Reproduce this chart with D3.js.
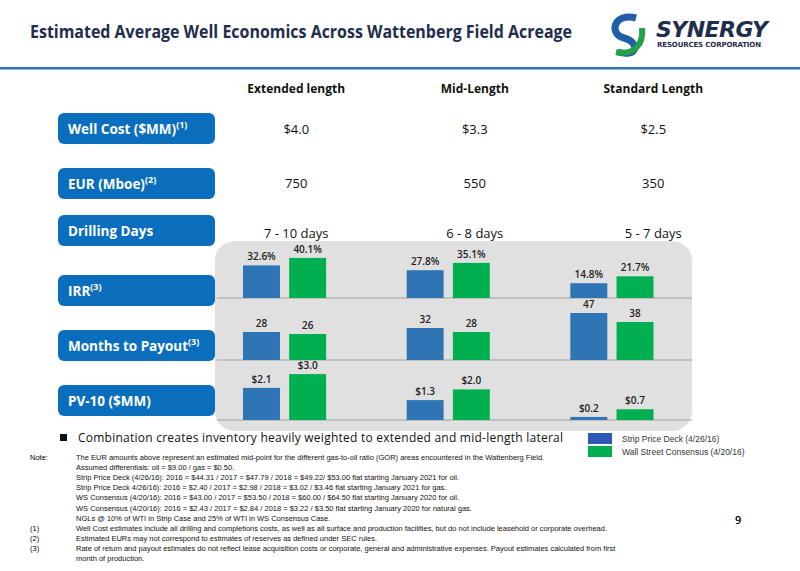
<!DOCTYPE html><html><head><meta charset="utf-8"><script src="https://cdn.jsdelivr.net/npm/d3@7"></script>
<style>body{margin:0;background:#fff}</style></head><body><svg id="c" width="800" height="571"></svg>
<script>
const categories=["Extended length","Mid-Length","Standard Length"];
const wellCost=["$4.0","$3.3","$2.5"];
const eur=["750","550","350"];
const drillDays=["7 - 10 days","6 - 8 days","5 - 7 days"];
const series=["Strip Price Deck (4/26/16)","Wall Street Consensus (4/20/16)"];
const irrStrip=[32.6,27.8,14.8], irrWS=[40.1,35.1,21.7];
const payStrip=[28,32,47], payWS=[26,28,38];
const pvStrip=[2.1,1.3,0.2], pvWS=[3.0,2.0,0.7];
const rowLabels=["Well Cost ($MM)","EUR (Mboe)","Drilling Days","IRR","Months to Payout","PV-10 ($MM)"];
const rowSup=["(1)","(2)","","(3)","(3)",""];
const notes=["The EUR amounts above represent an estimated mid-point for the different gas-to-oil ratio (GOR) areas encountered in the Wattenberg Field.",
"Assumed differentials: oil = $9.00 / gas = $0.50.",
"Strip Price Deck (4/26/16): 2016 = $44.31 / 2017 = $47.79 / 2018 = $49.22/ $53.00 flat starting January 2021 for oil.",
"Strip Price Deck 4/26/16): 2016 = $2.40 / 2017 = $2.98 / 2018 = $3.02 / $3.46 flat starting January 2021 for gas.",
"WS Consensus (4/20/16): 2016 = $43.00 / 2017 = $53.50 / 2018 = $60.00 / $64.50 flat starting January 2020 for oil.",
"WS Consensus (4/20/16): 2016 = $2.43 / 2017 = $2.84 / 2018 = $3.22 / $3.50 flat starting January 2020 for natural gas.",
"NGLs @ 10% of WTI in Strip Case and 25% of WTI in WS Consensus Case."];
const footnotes=[["(1)","Well Cost estimates include all drilling and completions costs, as well as all surface and production facilities, but do not include leasehold or corporate overhead."],
["(2)","Estimated EURs may not correspond to estimates of reserves as defined under SEC rules."],
["(3)","Rate of return and payout estimates do not reflect lease acquisition costs or corporate, general and administrative expenses.  Payout estimates calculated from first"],
["","month of production."]];
const svg=d3.select("#c"),F="Open Sans, sans-serif",NAVY="#1f2d4e",BLUE="#2e75b6",GREEN="#00b050";
svg.append("text").attr("x",30).attr("y",38).attr("font-family",F).attr("font-weight",700).attr("font-size",17).attr("fill",NAVY).attr("textLength",542).attr("lengthAdjust","spacingAndGlyphs").text("Estimated Average Well Economics Across Wattenberg Field Acreage");
const lg=svg.append("g");
lg.append("path").attr("d","M636,18 C614,12 608,34 624,38 C640,42 638,58 618,52").attr("fill","none").attr("stroke","#1f5fa8").attr("stroke-width",7);
lg.append("path").attr("d","M642,28 C644,44 634,56 616,52").attr("fill","none").attr("stroke","#22a04a").attr("stroke-width",6);
lg.append("text").attr("x",656).attr("y",37).attr("font-family","DejaVu Sans").attr("font-weight",700).attr("font-style","italic").attr("font-size",22).attr("fill","#1f2d4e").attr("textLength",112).text("SYNERGY");
lg.append("text").attr("x",657).attr("y",47).attr("font-family","DejaVu Sans").attr("font-weight",700).attr("font-size",7).attr("fill","#1f2d4e").attr("textLength",104).text("RESOURCES CORPORATION");
svg.append("rect").attr("x",0).attr("y",67).attr("width",800).attr("height",2.5).attr("fill","#2e75b6");
const xh=d3.scaleBand().domain(categories).range([207,742.5]).padding(0);
const cx=c=>xh(c)+xh.bandwidth()/2;
const x0=d3.scaleBand().domain(categories).range([243,653.5]).paddingInner(0.492).paddingOuter(0);
const xs=d3.scaleBand().domain(series).range([0,x0.bandwidth()]).paddingInner(0.2).paddingOuter(0);
svg.selectAll(".hd").data(categories).join("text").attr("x",cx).attr("y",93).attr("text-anchor","middle").attr("font-family",F).attr("font-weight",700).attr("font-size",12).attr("fill","#111").text(d=>d);
[[wellCost,134],[eur,188],[drillDays,238]].forEach(([arr,y])=>svg.selectAll(null).data(arr).join("text").attr("x",(d,i)=>cx(categories[i])).attr("y",y).attr("text-anchor","middle").attr("font-family",F).attr("font-size",13).attr("fill","#111").text(d=>d));
const ry=[113,168,215,275,330,385];
rowLabels.forEach((l,i)=>{svg.append("rect").attr("x",58).attr("y",ry[i]).attr("width",157).attr("height",31).attr("rx",6).attr("fill","#0a6ebd");
 const t=svg.append("text").attr("x",68).attr("y",ry[i]+21).attr("font-family",F).attr("font-weight",700).attr("font-size",13.5).attr("fill","#fff").text(l);
 if(rowSup[i])t.append("tspan").attr("dy",-6).attr("font-size",9).text(rowSup[i]);});
svg.append("rect").attr("x",215).attr("y",241).attr("width",477).attr("height",190).attr("rx",20).attr("fill","#e0e0e0");
const panels=[{s:irrStrip,w:irrWS,base:298,k:1,f:d=>d.toFixed(1)+"%"},{s:payStrip,w:payWS,base:360,k:1,f:d=>d},{s:pvStrip,w:pvWS,base:420,k:15.3,f:d=>"$"+d.toFixed(1)}];
panels.forEach(p=>{
 const y=d3.scaleLinear().domain([0,1]).range([p.base,p.base-p.k]);
 svg.append("line").attr("x1",217).attr("x2",692).attr("y1",p.base).attr("y2",p.base).attr("stroke","#a0a0a0").attr("stroke-width",1.2);
 [[p.s,series[0],BLUE],[p.w,series[1],GREEN]].forEach(([vals,sn,col])=>{
  const g=svg.append("g");
  g.selectAll("rect").data(vals).join("rect").attr("x",(d,i)=>x0(categories[i])+xs(sn)).attr("width",xs.bandwidth()).attr("y",d=>y(d)).attr("height",d=>p.base-y(d)).attr("fill",col);
  g.selectAll("text").data(vals).join("text").attr("x",(d,i)=>x0(categories[i])+xs(sn)+xs.bandwidth()/2).attr("y",d=>y(d)-5).attr("text-anchor","middle").attr("font-family",F).attr("font-weight",600).attr("font-size",10).attr("fill","#222").text(p.f);
 });
});
svg.append("rect").attr("x",60).attr("y",434).attr("width",7).attr("height",7).attr("fill","#111");
svg.append("text").attr("x",78).attr("y",442).attr("font-family",F).attr("font-size",12).attr("fill","#111").attr("textLength",485).text("Combination creates inventory heavily weighted to extended and mid-length lateral");
series.forEach((s,i)=>{svg.append("rect").attr("x",588).attr("y",433+i*13).attr("width",24).attr("height",11).attr("fill",i?GREEN:"#2e58b6");
 svg.append("text").attr("x",622).attr("y",442+i*13).attr("font-family","Liberation Sans").attr("font-size",8.5).attr("fill","#333").text(s);});
const nf="Liberation Sans Narrow, sans-serif";
svg.append("text").attr("x",30).attr("y",460).attr("font-family",nf).attr("font-size",7.5).text("Note:");
notes.forEach((n,i)=>svg.append("text").attr("x",76).attr("y",460+i*10.1).attr("font-family",nf).attr("font-size",7.5).attr("fill","#111").text(n));
footnotes.forEach((f,i)=>{svg.append("text").attr("x",30).attr("y",531+i*10.1).attr("font-family",nf).attr("font-size",7.5).text(f[0]);
 svg.append("text").attr("x",76).attr("y",531+i*10.1).attr("font-family",nf).attr("font-size",7.5).attr("fill","#111").text(f[1]);});
svg.append("text").attr("x",735).attr("y",524).attr("font-family",F).attr("font-weight",600).attr("font-size",11).text("9");
</script></body></html>
